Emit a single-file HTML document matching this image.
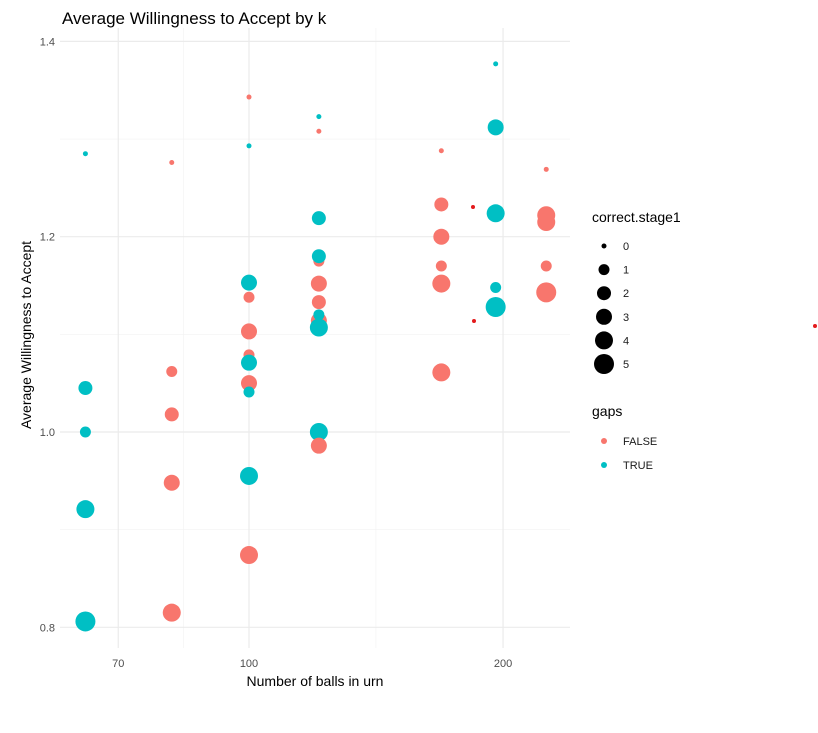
<!DOCTYPE html>
<html><head><meta charset="utf-8"><style>
body{margin:0;background:#fff;font-family:"Liberation Sans",sans-serif}
svg text{font-family:"Liberation Sans",sans-serif}
</style></head><body>
<svg id="c" width="818" height="728" xmlns="http://www.w3.org/2000/svg">
<text x="62" y="24" font-size="17" fill="#000">Average Willingness to Accept by k</text>
<g id="grid"></g><g id="pts"></g><g id="axes"></g>
<text x="315" y="686" font-size="14" text-anchor="middle" fill="#000">Number of balls in urn</text>
<text transform="translate(31,335) rotate(-90)" font-size="14" text-anchor="middle" fill="#000">Average Willingness to Accept</text>
<g id="legend"></g>
</svg>
<script>
const xTicks=[70,100,200];
const xMinor=[83.67,141.4];
const yTicks=[0.8,1.0,1.2,1.4];
const yMinor=[0.9,1.1,1.3];
const ptX=[64,64,64,64,64, 81,81,81,81,81, 100,100,100,100,100,100,100,100,100,100,100, 121,121,121,121,121,121,121,121,121,121,121,121, 169,169,169,169,169,169, 196,196,196,196,196, 225,225,225,225,225];
const ptY=[1.285,1.045,1.0,0.921,0.806, 1.276,1.062,1.018,0.948,0.815, 1.343,1.293,1.153,1.138,1.103,1.079,1.071,1.050,1.041,0.955,0.874, 1.323,1.308,1.219,1.175,1.180,1.152,1.133,1.114,1.120,1.107,1.0,0.986, 1.288,1.233,1.2,1.170,1.152,1.061, 1.377,1.312,1.224,1.148,1.128, 1.269,1.222,1.215,1.170,1.143];
const ptS=[0,2,1,4,5, 0,1,2,3,4, 0,0,3,1,3,1,3,3,1,4,4, 0,0,2,1,2,3,2,3,1,4,4,3, 0,2,3,1,4,4, 0,3,4,1,5, 0,4,4,1,5];
const ptG=[1,1,1,1,1, 0,0,0,0,0, 0,1,1,0,0,0,1,0,1,1,0, 1,0,1,0,1,0,0,0,1,1,1,0, 0,0,0,0,0,0, 1,1,1,1,1, 0,0,0,0,0];
const sizeLabels=["0","1","2","3","4","5"];
const gapLabels=["FALSE","TRUE"];
const radii=[2.5,5.5,7,8,9,10];
const colors=["#F8766D","#00BFC4"];
const NS="http://www.w3.org/2000/svg";
const X=v=>249+(Math.log10(v)-2)*844;
const Y=v=>432-(v-1)*976.5;
function mk(t,a,p){const e=document.createElementNS(NS,t);for(const k in a)e.setAttribute(k,a[k]);p.appendChild(e);return e;}
const grid=document.getElementById('grid'),axes=document.getElementById('axes'),pts=document.getElementById('pts'),lg=document.getElementById('legend');
yMinor.forEach(v=>{const l=mk('line',{x1:60,x2:570,y1:Y(v),y2:Y(v),stroke:'#f2f2f2','stroke-width':0.6},grid);

});
xMinor.forEach(v=>{const l=mk('line',{x1:X(v),x2:X(v),y1:28,y2:648,stroke:'#f2f2f2','stroke-width':0.6},grid);

});
yTicks.forEach(v=>{const l=mk('line',{x1:60,x2:570,y1:Y(v),y2:Y(v),stroke:'#ebebeb','stroke-width':1.2},grid);


const t=mk('text',{x:55,y:Y(v)+4,'font-size':11,fill:'#4d4d4d','text-anchor':'end'},axes);t.textContent=v.toFixed(1);

});
xTicks.forEach(v=>{const l=mk('line',{x1:X(v),x2:X(v),y1:28,y2:648,stroke:'#ebebeb','stroke-width':1.2},grid);


const t=mk('text',{x:X(v),y:667,'font-size':11,fill:'#4d4d4d','text-anchor':'middle'},axes);t.textContent=v;

});
ptX.forEach((x,i)=>{const c=mk('circle',{cx:X(x),cy:Y(ptY[i]),r:radii[ptS[i]],fill:colors[ptG[i]]},pts);

});
[[473,207],[474,321],[815,326]].forEach(p=>{const c=mk('circle',{cx:p[0],cy:p[1],r:2,fill:'#e31a1c'},pts);

});
let t=mk('text',{x:592,y:222,'font-size':14,fill:'#000'},lg);t.textContent='correct.stage1';


sizeLabels.forEach((s,i)=>{const cy=246+i*23.6;
const c=mk('circle',{cx:604,cy:cy,r:radii[i],fill:'#000'},lg);


const tx=mk('text',{x:623,y:cy+4,'font-size':11,fill:'#1a1a1a'},lg);tx.textContent=s;

});
t=mk('text',{x:592,y:416,'font-size':14,fill:'#000'},lg);t.textContent='gaps';


gapLabels.forEach((s,i)=>{const cy=441+i*24;
const c=mk('circle',{cx:604,cy:cy,r:3,fill:colors[i]},lg);


const tx=mk('text',{x:623,y:cy+4,'font-size':11,fill:'#1a1a1a'},lg);tx.textContent=s;

});
</script>
</body></html>
